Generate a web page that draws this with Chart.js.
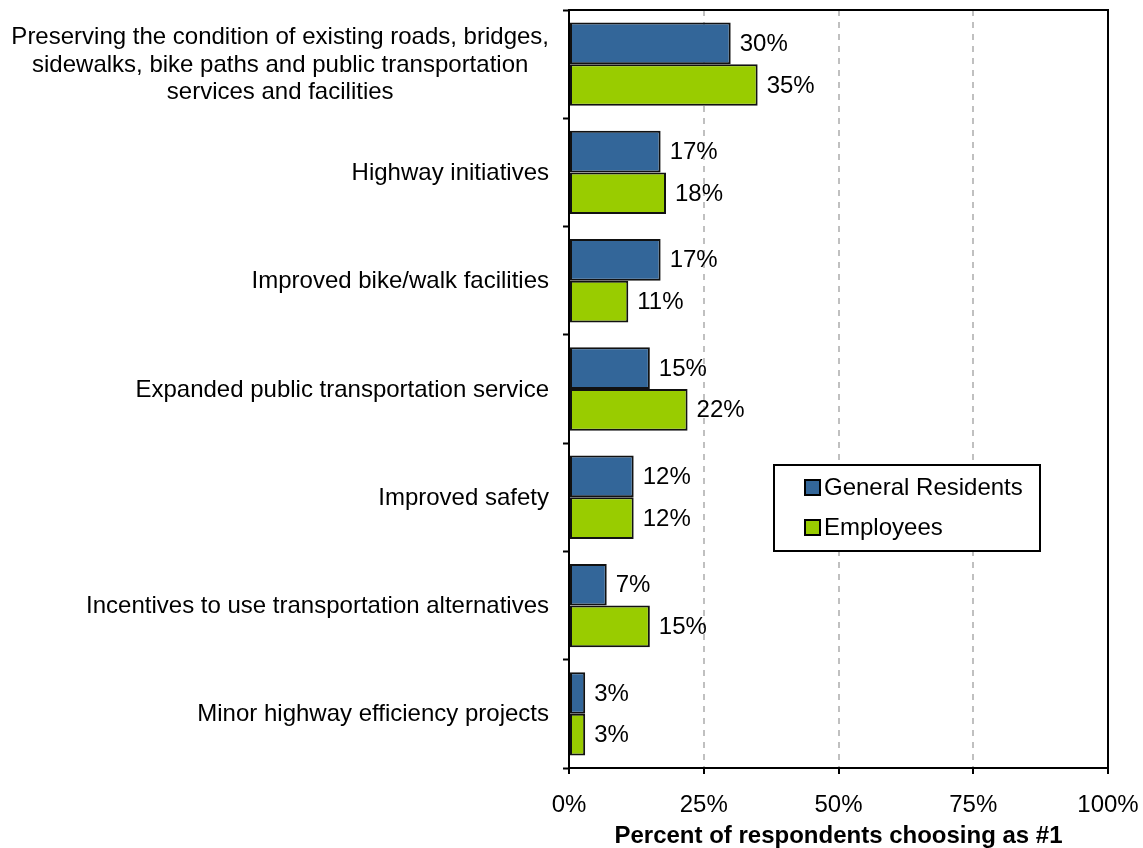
<!DOCTYPE html>
<html>
<head>
<meta charset="utf-8">
<script src="https://cdn.jsdelivr.net/npm/chart.js@4"></script>
<style>
  html, body { margin: 0; padding: 0; background: #fff; }
  #wrap { width: 1143px; height: 848px; }
</style>
</head>
<body>
<div id="wrap"><canvas id="myChart" width="1143" height="848"></canvas></div>
<script>
"use strict";

// chart data
const categories = [
    ["Preserving the condition of existing roads, bridges,", "sidewalks, bike paths and public transportation", "services and facilities"],
    "Highway initiatives",
    "Improved bike/walk facilities",
    "Expanded public transportation service",
    "Improved safety",
    "Incentives to use transportation alternatives",
    "Minor highway efficiency projects"
];
const residents = [30, 17, 17, 15, 12, 7, 3];
const employees = [35, 18, 11, 22, 12, 15, 3];
const seriesNames = ["General Residents", "Employees"];
const xTicks = [0, 25, 50, 75, 100];

const FAMILY = "'Liberation Sans', Arial, sans-serif";
const FONT = "24px " + FAMILY;

// frame around plot area + category labels + value labels + legend box
const extras = {
    id: "extras",
    afterDraw(chart) {
        const ctx = chart.ctx;
        const area = chart.chartArea;
        const yScale = chart.scales.y;

        ctx.save();
        // frame
        ctx.strokeStyle = "#000";
        ctx.lineWidth = 2;
        ctx.strokeRect(area.left, area.top, area.right - area.left, area.bottom - area.top);

        // category labels, centered lines, right edge near axis
        ctx.font = FONT;
        ctx.fillStyle = "#000";
        ctx.textAlign = "center";
        ctx.textBaseline = "middle";
        categories.forEach(function(label, i) {
            const lines = Array.isArray(label) ? label : [label];
            const y = yScale.getPixelForTick(i);
            let w = 0;
            lines.forEach(l => (w = Math.max(w, ctx.measureText(l).width)));
            const cx = area.left - 20 - w / 2;
            const lh = 27.5;
            lines.forEach(function(l, j) {
                ctx.fillText(l, cx, y + 1 + (j - (lines.length - 1) / 2) * lh);
            });
        });

        // value labels
        ctx.textAlign = "left";
        chart.data.datasets.forEach(function(ds, di) {
            const meta = chart.getDatasetMeta(di);
            meta.data.forEach(function(bar, i) {
                ctx.fillText(ds.data[i] + "%", bar.x + 9, bar.y + 1);
            });
        });

        // legend box
        const lx = 774, ly = 465, lw = 266, lh = 86;
        ctx.fillStyle = "#fff";
        ctx.fillRect(lx, ly, lw, lh);
        ctx.lineWidth = 2;
        ctx.strokeStyle = "#000";
        ctx.strokeRect(lx, ly, lw, lh);
        chart.data.datasets.forEach(function(ds, di) {
            const ry = 487 + di * 40;
            ctx.fillStyle = ds.backgroundColor;
            ctx.fillRect(805, ry - 7, 15, 15);
            ctx.lineWidth = 2;
            ctx.strokeStyle = "#000";
            ctx.strokeRect(805, ry - 7, 15, 15);
            ctx.fillStyle = "#000";
            ctx.textAlign = "left";
            ctx.fillText(ds.label, 824, ry + 1);
        });
        ctx.restore();
    }
};

const ctx = document.getElementById("myChart").getContext("2d");
const chart = new Chart(ctx, {
    type: "bar",
    data: {
        labels: categories,
        datasets: [
            {
                label: seriesNames[0],
                data: residents,
                backgroundColor: "#336699",
                borderColor: "#111",
                borderWidth: 2,
                borderSkipped: false
            },
            {
                label: seriesNames[1],
                data: employees,
                backgroundColor: "#99cc00",
                borderColor: "#111",
                borderWidth: 2,
                borderSkipped: false
            }
        ]
    },
    options: {
        indexAxis: "y",
        responsive: false,
        animation: false,
        devicePixelRatio: 1,
        layout: { padding: { left: 0, right: 35, top: 10, bottom: 0 } },
        datasets: { bar: { categoryPercentage: 0.77, barPercentage: 1.0 } },
        plugins: {
            legend: { display: false },
            tooltip: { enabled: false }
        },
        scales: {
            x: {
                min: 0,
                max: 100,
                afterBuildTicks(scale) {
                    scale.ticks = xTicks.map(v => ({ value: v }));
                },
                afterFit(scale) {
                    scale.height = 80;
                    scale.paddingLeft = 0;
                    scale.paddingRight = 0;
                },
                border: { display: false, dash: [6, 6] },
                grid: {
                    color: c => (c.tick && (c.tick.value === 0 || c.tick.value === 100) ? "rgba(0,0,0,0)" : "#c0c0c0"),
                    lineWidth: 2,
                    tickColor: "#000",
                    tickLength: 6,
                    tickWidth: 2,
                    tickBorderDash: []
                },
                ticks: {
                    color: "#000",
                    font: { family: FAMILY, size: 24 },
                    padding: 17,
                    callback: v => v + "%"
                },
                title: {
                    display: true,
                    text: "Percent of respondents choosing as #1",
                    color: "#000",
                    font: { family: FAMILY, size: 24, weight: "bold" },
                    padding: { top: 4, bottom: -3 }
                }
            },
            y: {
                afterFit(scale) {
                    scale.width = 569;
                },
                border: { display: false },
                grid: {
                    offset: true,
                    drawOnChartArea: false,
                    tickColor: "#000",
                    tickLength: 6,
                    tickWidth: 2
                },
                ticks: { display: false }
            }
        }
    },
    plugins: [extras]
});
</script>
</body>
</html>
